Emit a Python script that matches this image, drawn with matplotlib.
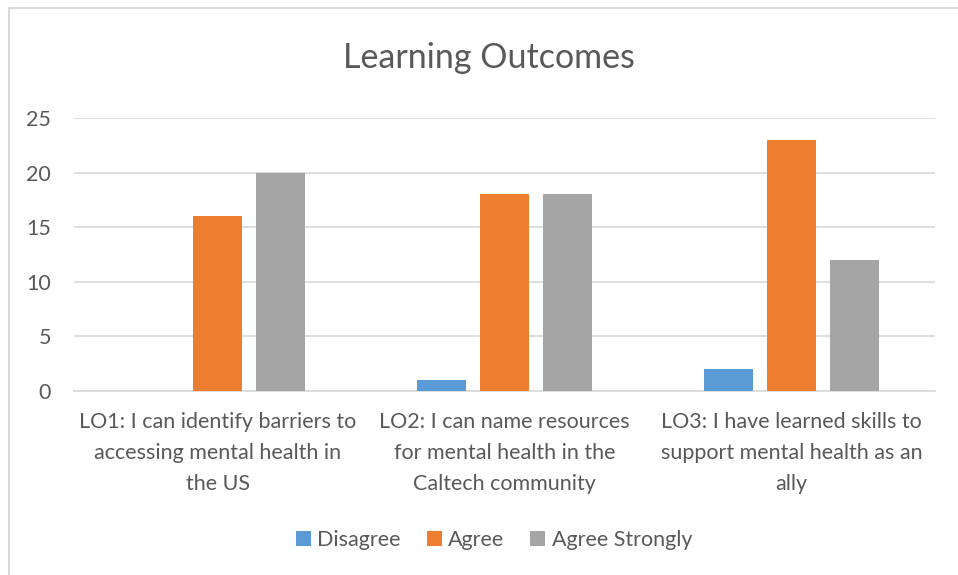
import numpy as np
import matplotlib.pyplot as plt
from matplotlib.lines import Line2D

categories = [
    'LO1: I can identify barriers to\naccessing mental health in\nthe US',
    'LO2: I can name resources\nfor mental health in the\nCaltech community',
    'LO3: I have learned skills to\nsupport mental health as an\nally',
]
series_names = ['Disagree', 'Agree', 'Agree Strongly']
disagree = [0, 1, 2]
agree = [16, 18, 23]
agree_strongly = [20, 18, 12]
colors = ['#5B9BD5', '#ED7D31', '#A5A5A5']

plt.rcParams['font.family'] = ['Lato', 'DejaVu Sans']
text_color = '#595959'

fig = plt.figure(figsize=(9.58, 5.75), dpi=100)
ax = fig.add_axes([74 / 958, 1 - 391 / 575, (935 - 74) / 958, (391 - 118) / 575])

x = np.arange(len(categories))
width = 0.171
offset = 0.22
for i, (name, vals) in enumerate(zip(series_names, [disagree, agree, agree_strongly])):
    ax.bar(x + (i - 1) * offset, vals, width, color=colors[i], label=name, zorder=3)

ax.set_xlim(-0.5, 2.5)
ax.set_ylim(0, 25)
ax.set_yticks(range(0, 26, 5))
ax.yaxis.grid(True, color='#D9D9D9', linewidth=1.2, zorder=0)
for s in ['top', 'right', 'left']:
    ax.spines[s].set_visible(False)
ax.spines['bottom'].set_color('#D9D9D9')
ax.spines['bottom'].set_linewidth(1.2)
ax.tick_params(axis='both', length=0, labelsize=15.5, colors=text_color)
ax.tick_params(axis='y', pad=16.5)
ax.tick_params(axis='x', pad=15)
ax.set_xticks(x)
ax.set_xticklabels(categories, linespacing=1.68)

fig.text(489 / 958, 1 - 58 / 575, 'Learning Outcomes', ha='center', va='center',
         fontsize=24.5, color=text_color)

leg = fig.legend(loc='center', bbox_to_anchor=(494 / 958, 1 - 540 / 575), ncol=3,
                 frameon=False, fontsize=15.5, labelcolor=text_color,
                 handlelength=0.7, handleheight=0.7, handletextpad=0.3,
                 columnspacing=1.2)

# chart border (top and left edges visible)
fig.add_artist(Line2D([9 / 958, 9 / 958], [0, 1 - 8 / 575], color='#D9D9D9', linewidth=1.5))
fig.add_artist(Line2D([9 / 958, 1], [1 - 8 / 575, 1 - 8 / 575], color='#D9D9D9', linewidth=1.5))

fig.savefig('out.png', dpi=100)
